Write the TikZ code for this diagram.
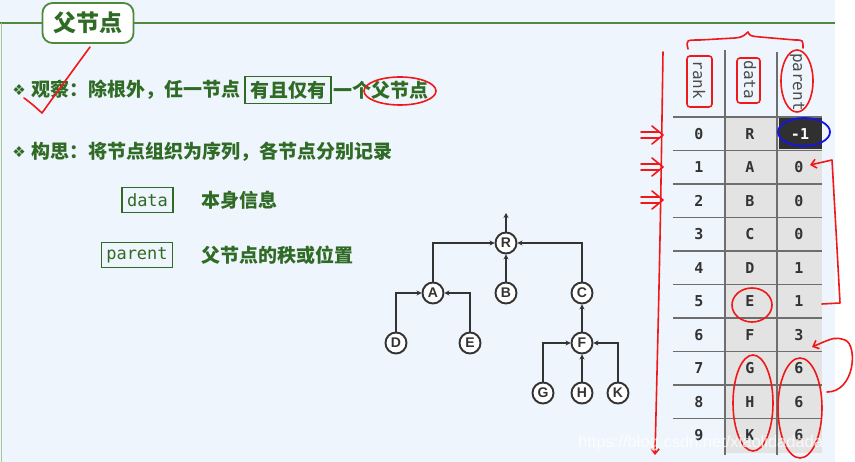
\documentclass[tikz,border=0pt]{standalone}
\usepackage{fontspec}
\setmainfont{Liberation Sans}
\newfontfamily\cjk{Noto Sans CJK SC}
\newfontfamily\monof{DejaVu Sans Mono}
\newfontfamily\symf{DejaVu Sans}
\usetikzlibrary{arrows.meta,positioning}
\definecolor{slidebg}{HTML}{EFF5FC}
\definecolor{slidegreen}{HTML}{2F6B25}
\definecolor{linegreen}{HTML}{4E8A3E}
\definecolor{treeink}{HTML}{333333}
\definecolor{cellgray}{HTML}{E3E3E3}
\definecolor{gridgray}{HTML}{6E6E6E}
\definecolor{penred}{HTML}{F01818}
\definecolor{penblue}{HTML}{1414E6}
\tikzset{
  cjktext/.style={inner sep=0pt, text=slidegreen, font=\cjk\bfseries\fontsize{19}{22}\selectfont},
  bullet/.style={inner sep=0pt, text=slidegreen, font=\symf\fontsize{15}{15}\selectfont},
  hlbox/.style={cjktext, draw=slidegreen, line width=1.3pt, inner xsep=5pt, minimum height=27pt},
  codebox/.style={draw=slidegreen, line width=1.3pt, text=slidegreen, inner xsep=5pt, minimum height=25pt, font=\monof\fontsize{17}{17}\selectfont},
  titlebox/.style={draw=linegreen, line width=1.8pt, fill=white, rounded corners=10pt, minimum width=91pt, minimum height=40pt, text=slidegreen, font=\cjk\bfseries\fontsize{23}{23}\selectfont},
  tnode/.style={circle, draw=treeink, line width=1.9pt, fill=white, minimum size=21pt, inner sep=0pt, text=treeink, font=\bfseries\fontsize{14}{14}\selectfont},
  tedge/.style={treeink, line width=1.9pt, -{Stealth[length=5pt,width=5pt]}},
  cell/.style={inner sep=0pt, text=treeink, font=\monof\bfseries\fontsize{15}{15}\selectfont},
  head/.style={inner sep=0pt, rotate=-90, text=gray!60!black, font=\monof\fontsize{16}{16}\selectfont},
  gridline/.style={gridgray, line width=1.8pt},
  redpen/.style={penred, line width=1.6pt, line cap=round, line join=round},
  wmark/.style={inner sep=0pt, text=white, opacity=0.75, font=\fontsize{16.5}{16.5}\selectfont}
}

\begin{document}
\begin{tikzpicture}[x=1pt,y=-1pt]
  \useasboundingbox (0,0) rectangle (855,462);
  \fill[slidebg] (0,0) rectangle (835,462);
  \fill[white] (835,0) rectangle (855,462);
  % slide frame and title
  \draw[linegreen, line width=1.8pt] (0,23) -- (835,23);
  \draw[linegreen!50, line width=1.2pt] (1.5,23) -- (1.5,462);
  \node[titlebox] (title) at (88,23) {父节点};

  % text lines
  \node[bullet] (b1) at (19,90) {❖};
  \node[cjktext, anchor=west] (obs) at (31,90) {观察：除根外，任一节点};
  \node[hlbox, right=4pt of obs] (only) {有且仅有};
  \node[cjktext, right=2pt of only] (onep) {一个父节点};
  \node[bullet] (b2) at (19,152) {❖};
  \node[cjktext, anchor=west] (idea) at (31,152) {构思：将节点组织为序列，各节点分别记录};
  \node[codebox] (kdata) at (147.5,200) {data};
  \node[cjktext, anchor=west] (tdata) at (201,200) {本身信息};
  \node[codebox] (kparent) at (137,255) {parent};
  \node[cjktext, anchor=west] (tparent) at (201,255) {父节点的秩或位置};

  % tree
  \node[tnode] (R) at (506,243) {R};
  \node[tnode] (A) at (433,293) {A};
  \node[tnode] (B) at (506,293) {B};
  \node[tnode] (C) at (582,293) {C};
  \node[tnode] (D) at (396,343) {D};
  \node[tnode] (E) at (470,343) {E};
  \node[tnode] (F) at (582,343) {F};
  \node[tnode] (G) at (543,393) {G};
  \node[tnode] (H) at (582,393) {H};
  \node[tnode] (K) at (618,393) {K};
  \coordinate (up) at (506,213);
  \draw[tedge] (R) -- (up);
  \draw[tedge] (A) |- (R);
  \draw[tedge] (B) -- (R);
  \draw[tedge] (C) |- (R);
  \draw[tedge] (D) |- (A);
  \draw[tedge] (E) |- (A);
  \draw[tedge] (F) -- (C);
  \draw[tedge] (G) |- (F);
  \draw[tedge] (H) -- (F);
  \draw[tedge] (K) |- (F);

  % table
  \fill[cellgray] (726,117) rectangle (822,453);
  \fill[treeink!95!black] (779,118) rectangle (822,149);
  \draw[gridline] (725,50) -- (725,455);
  \draw[gridline] (777,52) -- (777,455);
  \foreach \i in {0,...,9} {
    \draw[gridline] (673,117+33.5*\i) -- (822,117+33.5*\i);
  }
  \node[head] (hrank) at (699,80) {rank};
  \node[head] (hdata) at (750,80) {data};
  \node[head] (hparent) at (797,82) {parent};
  \foreach \d/\p [count=\i from 0] in {R/-1,A/0,B/0,C/0,D/1,E/1,F/3,G/6,H/6,K/6} {
    \node[cell] (rk\i) at (699,134+33.5*\i) {\i};
    \node[cell] (dt\i) at (750,134+33.5*\i) {\d};
    \ifnum\i>0
      \node[cell] (pt\i) at (799,134+33.5*\i) {\p};
    \fi
  }
  \node[cell, text=white] (pt0) at (800,134) {-1};

  % hand notes
  \draw[redpen] (24,98) .. controls (32,104) .. (42,113) .. controls (60,88) .. (90,47);
  \draw[redpen] (400,91) ellipse [x radius=36pt, y radius=14pt];
  \draw[redpen] (688,49) .. controls (686,40) .. (700,40) -- (735,38) .. controls (745,37) and (745,34) .. (748,32) .. controls (750,36) .. (760,37) -- (795,40) .. controls (803,40) .. (803,48);
  \draw[redpen, rounded corners=3pt] (687,56) rectangle (712,107);
  \draw[redpen, rounded corners=3pt] (737,58) rectangle (760,103);
  \draw[redpen] (797,81) ellipse [x radius=16pt, y radius=31pt];
  \draw[penblue, line width=1.8pt] (804,132) ellipse [x radius=26pt, y radius=14pt];
  \draw[redpen, -{Straight Barb[length=5pt,width=8pt]}] (663,52) .. controls (660,250) .. (655,455);
  \foreach \y in {135,167,200} {
    \draw[redpen] (641,\y-3) -- (659,\y-3) (641,\y+3) -- (659,\y+3) (652,\y-9) -- (663,\y) -- (652,\y+9);
  }
  \draw[redpen, -{Straight Barb[length=5pt,width=9pt]}] (822,304) -- (840,303) .. controls (836,230) .. (832,160) -- (810,165);
  \draw[redpen, -{Straight Barb[length=5pt,width=9pt]}] (827,392) .. controls (855,392) and (858,345) .. (845,340) .. controls (835,337) .. (812,347);
  \draw[redpen] (752,305) ellipse [x radius=20pt, y radius=17pt];
  \draw[redpen] (753,403) ellipse [x radius=20pt, y radius=48pt];
  \draw[redpen] (800,408) ellipse [x radius=22pt, y radius=50pt];

  \node[wmark, anchor=west] (wm) at (578,443) {https://blog.csdn.net/xiaolidadada};
\end{tikzpicture}
\end{document}
